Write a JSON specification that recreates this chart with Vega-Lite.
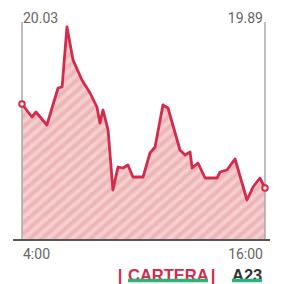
{
  "$schema": "https://vega.github.io/schema/vega-lite/v6.json",
  "autosize": "none",
  "width": 243,
  "height": 220,
  "padding": {"left": 22, "top": 20, "right": 21, "bottom": 44},
  "background": "#ffffff",
  "config": {"view": {"stroke": null}, "font": "Roboto"},
  "datasets": {
    "price": [
      {"t": 4.00, "v": 19.808},
      {"t": 4.49, "v": 19.769},
      {"t": 4.69, "v": 19.784},
      {"t": 5.23, "v": 19.745},
      {"t": 5.78, "v": 19.856},
      {"t": 5.98, "v": 19.859},
      {"t": 6.22, "v": 20.039},
      {"t": 6.52, "v": 19.94},
      {"t": 6.96, "v": 19.88},
      {"t": 7.36, "v": 19.841},
      {"t": 7.70, "v": 19.799},
      {"t": 7.85, "v": 19.751},
      {"t": 8.00, "v": 19.79},
      {"t": 8.25, "v": 19.73},
      {"t": 8.49, "v": 19.55},
      {"t": 8.74, "v": 19.619},
      {"t": 8.99, "v": 19.616},
      {"t": 9.23, "v": 19.625},
      {"t": 9.48, "v": 19.589},
      {"t": 9.98, "v": 19.589},
      {"t": 10.32, "v": 19.661},
      {"t": 10.57, "v": 19.679},
      {"t": 10.96, "v": 19.805},
      {"t": 11.21, "v": 19.796},
      {"t": 11.80, "v": 19.67},
      {"t": 12.05, "v": 19.655},
      {"t": 12.30, "v": 19.664},
      {"t": 12.40, "v": 19.616},
      {"t": 12.69, "v": 19.631},
      {"t": 13.04, "v": 19.586},
      {"t": 13.63, "v": 19.586},
      {"t": 13.78, "v": 19.604},
      {"t": 14.12, "v": 19.61},
      {"t": 14.52, "v": 19.643},
      {"t": 15.11, "v": 19.52},
      {"t": 15.41, "v": 19.559},
      {"t": 15.75, "v": 19.586},
      {"t": 16.00, "v": 19.556}
    ],
    "ends": [
      {"t": 4.00, "v": 19.808},
      {"t": 16.00, "v": 19.556}
    ]
  },
  "layer": [
    {
      "data": {"name": "price"},
      "mark": {
        "type": "area",
        "fill": {
          "gradient": "linear", "x1": 0, "y1": 0, "x2": 1, "y2": 1,
          "stops": [
            {"offset": 0, "color": "#f7d4d3"}, {"offset": 0.0125, "color": "#ebb0b2"},
            {"offset": 0.025, "color": "#f7d4d3"}, {"offset": 0.0375, "color": "#ebb0b2"},
            {"offset": 0.05, "color": "#f7d4d3"}, {"offset": 0.0625, "color": "#ebb0b2"},
            {"offset": 0.075, "color": "#f7d4d3"}, {"offset": 0.0875, "color": "#ebb0b2"},
            {"offset": 0.1, "color": "#f7d4d3"}, {"offset": 0.1125, "color": "#ebb0b2"},
            {"offset": 0.125, "color": "#f7d4d3"}, {"offset": 0.1375, "color": "#ebb0b2"},
            {"offset": 0.15, "color": "#f7d4d3"}, {"offset": 0.1625, "color": "#ebb0b2"},
            {"offset": 0.175, "color": "#f7d4d3"}, {"offset": 0.1875, "color": "#ebb0b2"},
            {"offset": 0.2, "color": "#f7d4d3"}, {"offset": 0.2125, "color": "#ebb0b2"},
            {"offset": 0.225, "color": "#f7d4d3"}, {"offset": 0.2375, "color": "#ebb0b2"},
            {"offset": 0.25, "color": "#f7d4d3"}, {"offset": 0.2625, "color": "#ebb0b2"},
            {"offset": 0.275, "color": "#f7d4d3"}, {"offset": 0.2875, "color": "#ebb0b2"},
            {"offset": 0.3, "color": "#f7d4d3"}, {"offset": 0.3125, "color": "#ebb0b2"},
            {"offset": 0.325, "color": "#f7d4d3"}, {"offset": 0.3375, "color": "#ebb0b2"},
            {"offset": 0.35, "color": "#f7d4d3"}, {"offset": 0.3625, "color": "#ebb0b2"},
            {"offset": 0.375, "color": "#f7d4d3"}, {"offset": 0.3875, "color": "#ebb0b2"},
            {"offset": 0.4, "color": "#f7d4d3"}, {"offset": 0.4125, "color": "#ebb0b2"},
            {"offset": 0.425, "color": "#f7d4d3"}, {"offset": 0.4375, "color": "#ebb0b2"},
            {"offset": 0.45, "color": "#f7d4d3"}, {"offset": 0.4625, "color": "#ebb0b2"},
            {"offset": 0.475, "color": "#f7d4d3"}, {"offset": 0.4875, "color": "#ebb0b2"},
            {"offset": 0.5, "color": "#f7d4d3"}, {"offset": 0.5125, "color": "#ebb0b2"},
            {"offset": 0.525, "color": "#f7d4d3"}, {"offset": 0.5375, "color": "#ebb0b2"},
            {"offset": 0.55, "color": "#f7d4d3"}, {"offset": 0.5625, "color": "#ebb0b2"},
            {"offset": 0.575, "color": "#f7d4d3"}, {"offset": 0.5875, "color": "#ebb0b2"},
            {"offset": 0.6, "color": "#f7d4d3"}, {"offset": 0.6125, "color": "#ebb0b2"},
            {"offset": 0.625, "color": "#f7d4d3"}, {"offset": 0.6375, "color": "#ebb0b2"},
            {"offset": 0.65, "color": "#f7d4d3"}, {"offset": 0.6625, "color": "#ebb0b2"},
            {"offset": 0.675, "color": "#f7d4d3"}, {"offset": 0.6875, "color": "#ebb0b2"},
            {"offset": 0.7, "color": "#f7d4d3"}, {"offset": 0.7125, "color": "#ebb0b2"},
            {"offset": 0.725, "color": "#f7d4d3"}, {"offset": 0.7375, "color": "#ebb0b2"},
            {"offset": 0.75, "color": "#f7d4d3"}, {"offset": 0.7625, "color": "#ebb0b2"},
            {"offset": 0.775, "color": "#f7d4d3"}, {"offset": 0.7875, "color": "#ebb0b2"},
            {"offset": 0.8, "color": "#f7d4d3"}, {"offset": 0.8125, "color": "#ebb0b2"},
            {"offset": 0.825, "color": "#f7d4d3"}, {"offset": 0.8375, "color": "#ebb0b2"},
            {"offset": 0.85, "color": "#f7d4d3"}, {"offset": 0.8625, "color": "#ebb0b2"},
            {"offset": 0.875, "color": "#f7d4d3"}, {"offset": 0.8875, "color": "#ebb0b2"},
            {"offset": 0.9, "color": "#f7d4d3"}, {"offset": 0.9125, "color": "#ebb0b2"},
            {"offset": 0.925, "color": "#f7d4d3"}, {"offset": 0.9375, "color": "#ebb0b2"},
            {"offset": 0.95, "color": "#f7d4d3"}, {"offset": 0.9625, "color": "#ebb0b2"},
            {"offset": 0.975, "color": "#f7d4d3"}, {"offset": 0.9875, "color": "#ebb0b2"},
            {"offset": 1, "color": "#f7d4d3"}
          ]
        }
      },
      "encoding": {
        "x": {
          "field": "t", "type": "quantitative",
          "scale": {"domain": [4, 16], "nice": false, "zero": false},
          "axis": null
        },
        "y": {
          "field": "v", "type": "quantitative",
          "scale": {"domain": [19.4, 20.06], "nice": false, "zero": false},
          "axis": null
        },
        "y2": {"datum": 19.4}
      }
    },
    {
      "data": {"values": [{"t": 4}, {"t": 16}]},
      "mark": {"type": "rule", "color": "#aaaaaa", "strokeWidth": 1.5},
      "encoding": {
        "x": {"field": "t", "type": "quantitative"},
        "y": {"datum": 19.4, "type": "quantitative"},
        "y2": {"datum": 20.054}
      }
    },
    {
      "data": {"name": "price"},
      "mark": {"type": "line", "color": "#d42a4c", "strokeWidth": 2.8, "strokeJoin": "round"},
      "encoding": {
        "x": {"field": "t", "type": "quantitative"},
        "y": {"field": "v", "type": "quantitative"}
      }
    },
    {
      "data": {"values": [{"a": 3.56, "b": 16.25, "v": 19.4}]},
      "mark": {"type": "rule", "color": "#555555", "strokeWidth": 2, "clip": false},
      "encoding": {
        "x": {"field": "a", "type": "quantitative"},
        "x2": {"field": "b"},
        "y": {"field": "v", "type": "quantitative"}
      }
    },
    {
      "data": {"name": "ends"},
      "mark": {"type": "point", "shape": "circle", "filled": true, "fill": "#ffffff", "stroke": "#d42a4c", "strokeWidth": 2, "size": 30, "opacity": 1},
      "encoding": {
        "x": {"field": "t", "type": "quantitative"},
        "y": {"field": "v", "type": "quantitative"}
      }
    },
    {
      "data": {"values": [{"t": 4, "v": 20.051, "label": "20.03"}, {"t": 4, "v": 19.343, "label": "4:00"}]},
      "mark": {"type": "text", "align": "left", "baseline": "alphabetic", "dx": 1, "fontSize": 14, "color": "#666666", "clip": false},
      "encoding": {
        "x": {"field": "t", "type": "quantitative"},
        "y": {"field": "v", "type": "quantitative"},
        "text": {"field": "label"}
      }
    },
    {
      "data": {"values": [{"t": 16, "v": 20.051, "label": "19.89"}, {"t": 16, "v": 19.343, "label": "16:00"}]},
      "mark": {"type": "text", "align": "right", "baseline": "alphabetic", "dx": -2, "fontSize": 14, "color": "#666666", "clip": false},
      "encoding": {
        "x": {"field": "t", "type": "quantitative"},
        "y": {"field": "v", "type": "quantitative"},
        "text": {"field": "label"}
      }
    },
    {
      "data": {"values": [{"t": 9.235, "v": 19.277, "label": "CARTERA"}]},
      "mark": {"type": "text", "align": "left", "baseline": "alphabetic", "font": "Liberation Sans", "fontSize": 16.5, "fontWeight": "bold", "color": "#d42a4c", "clip": false},
      "encoding": {
        "x": {"field": "t", "type": "quantitative"},
        "y": {"field": "v", "type": "quantitative"},
        "text": {"field": "label"}
      }
    },
    {
      "data": {"values": [{"t": 8.84, "v": 19.277, "label": "|"}, {"t": 13.43, "v": 19.277, "label": "|"}]},
      "mark": {"type": "text", "align": "center", "baseline": "alphabetic", "font": "Liberation Sans", "fontSize": 16.5, "fontWeight": "bold", "color": "#d42a4c", "clip": false},
      "encoding": {
        "x": {"field": "t", "type": "quantitative"},
        "y": {"field": "v", "type": "quantitative"},
        "text": {"field": "label"}
      }
    },
    {
      "data": {"values": [{"t": 14.37, "v": 19.277, "label": "A23"}]},
      "mark": {"type": "text", "align": "left", "baseline": "alphabetic", "font": "Liberation Sans", "fontSize": 16.5, "fontWeight": "bold", "color": "#333333", "clip": false},
      "encoding": {
        "x": {"field": "t", "type": "quantitative"},
        "y": {"field": "v", "type": "quantitative"},
        "text": {"field": "label"}
      }
    },
    {
      "data": {"values": [{"a": 9.235, "b": 13.185, "v": 19.2785}, {"a": 14.37, "b": 15.85, "v": 19.2785}]},
      "mark": {"type": "rule", "color": "#2db37a", "strokeWidth": 3.5, "clip": false},
      "encoding": {
        "x": {"field": "a", "type": "quantitative"},
        "x2": {"field": "b"},
        "y": {"field": "v", "type": "quantitative"}
      }
    }
  ]
}
